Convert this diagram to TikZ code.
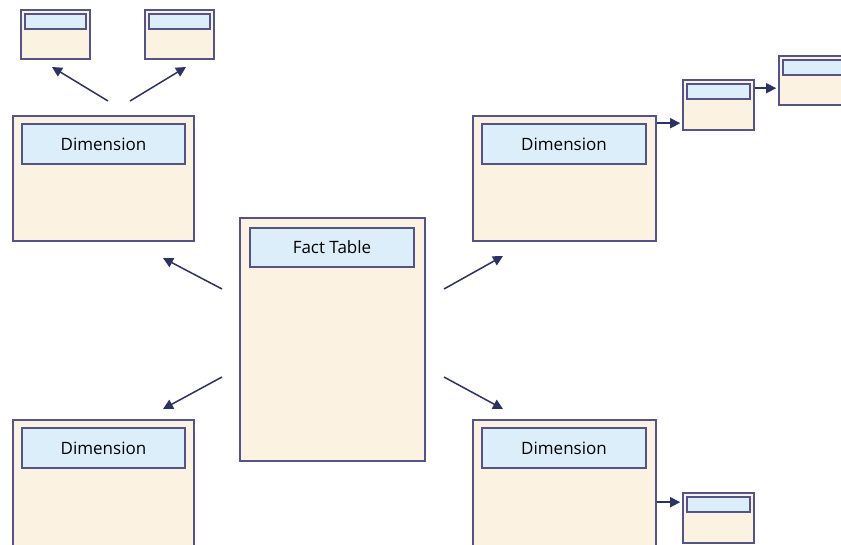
\documentclass[tikz,border=0pt]{standalone}
\usepackage{fontspec}
\setmainfont{Open Sans}
\usetikzlibrary{arrows.meta}
\definecolor{cream}{HTML}{FCF2E2}
\definecolor{paleblue}{HTML}{DDEEFB}
\definecolor{edge}{HTML}{55548A}
\definecolor{navy}{HTML}{2C3264}
\tikzset{
  table/.style={draw=edge, fill=cream, line width=1.6pt, inner sep=0pt, rectangle},
  header/.style={draw=edge, fill=paleblue, line width=1.6pt, inner sep=0pt, rectangle,
                 font=\fontsize{17}{19}\selectfont, text=black},
  link/.style={draw=navy, line width=1.5pt, -{Triangle[length=10pt,width=10pt]}}
}
\begin{document}
\begin{tikzpicture}[x=1pt,y=-1pt]
\useasboundingbox (0,0) rectangle (841,544);
\clip (0,0) rectangle (841,544);
\fill[white] (0,0) rectangle (841,544);

% fact table in the middle
\node[table, minimum width=185pt, minimum height=243pt] (fact) at (332.5,339.5) {};
\node[header, minimum width=164pt, minimum height=39pt] (factH) at (332,247.5) {Fact Table};

% four dimension tables
\node[table, minimum width=181pt, minimum height=125pt] (dimTL) at (103.5,178.5) {};
\node[header, minimum width=163pt, minimum height=40pt] (dimTLH) at (103.5,144) {Dimension};
\node[table, minimum width=183pt, minimum height=125pt] (dimTR) at (564.5,178.5) {};
\node[header, minimum width=164pt, minimum height=40pt] (dimTRH) at (564,144) {Dimension};
\node[table, minimum width=181pt, minimum height=140pt] (dimBL) at (103.5,490) {};
\node[header, minimum width=163pt, minimum height=40pt] (dimBLH) at (103.5,448) {Dimension};
\node[table, minimum width=183pt, minimum height=140pt] (dimBR) at (564.5,490) {};
\node[header, minimum width=164pt, minimum height=40pt] (dimBRH) at (564,448) {Dimension};

% small sub-dimension tables
\node[table, minimum width=69pt, minimum height=49pt] (subA) at (55.5,34.5) {};
\node[header, minimum width=61pt, minimum height=15pt] (subAH) at (55.5,21.5) {};
\node[table, minimum width=69pt, minimum height=49pt] (subB) at (179.5,34.5) {};
\node[header, minimum width=61pt, minimum height=15pt] (subBH) at (179.5,21.5) {};
\node[table, minimum width=71pt, minimum height=50pt] (subC) at (718.5,105) {};
\node[header, minimum width=63pt, minimum height=15pt] (subCH) at (718.5,91.5) {};
\node[table, minimum width=71pt, minimum height=49pt] (subD) at (814.5,80.5) {};
\node[header, minimum width=63pt, minimum height=15pt] (subDH) at (814.5,67.5) {};
\node[table, minimum width=71pt, minimum height=50pt] (subE) at (718.5,518) {};
\node[header, minimum width=63pt, minimum height=15pt] (subEH) at (718.5,504.5) {};

% free ends of the diagonal links
\coordinate (fTLs) at (222,289); \coordinate (fTLe) at (163,258);
\coordinate (fTRs) at (444,289); \coordinate (fTRe) at (503,256);
\coordinate (fBLs) at (222,377); \coordinate (fBLe) at (163,409);
\coordinate (fBRs) at (444,377); \coordinate (fBRe) at (503,409);
\coordinate (sAs) at (108,101);  \coordinate (sAe) at (52,67);
\coordinate (sBs) at (130,101);  \coordinate (sBe) at (186,67);

\draw[link] (fTLs) -- (fTLe);
\draw[link] (fTRs) -- (fTRe);
\draw[link] (fBLs) -- (fBLe);
\draw[link] (fBRs) -- (fBRe);
\draw[link] (sAs) -- (sAe);
\draw[link] (sBs) -- (sBe);

% snowflake links, leaving a small gap before each target table
\coordinate (lkC) at ([yshift=-8pt]dimTR.north east);
\coordinate (lkD) at ([yshift=-9pt]subC.north east);
\coordinate (lkE) at ([yshift=-10pt]subE.north west);
\draw[link, shorten >=2pt] (lkC) -- (lkC -| subC.west);
\draw[link, shorten >=2pt] (lkD) -- (lkD -| subD.west);
\draw[link, shorten >=2pt] (lkE -| dimBR.east) -- (lkE);
\end{tikzpicture}
\end{document}
